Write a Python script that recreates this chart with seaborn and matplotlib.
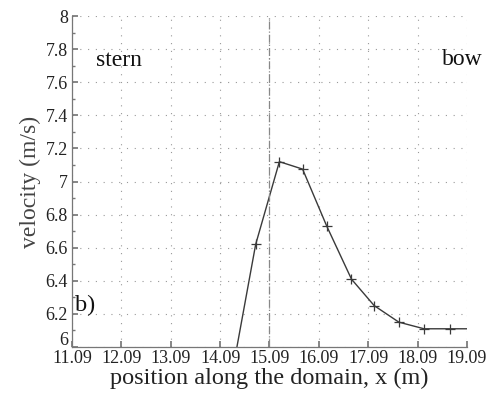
import matplotlib
matplotlib.use("Agg")
import matplotlib.pyplot as plt
import matplotlib.transforms as mtransforms
import seaborn as sns
import pandas as pd
import numpy as np
from matplotlib.ticker import AutoMinorLocator

sns.set_theme(style="white")
plt.rcParams['font.family'] = ['Liberation Serif', 'DejaVu Serif']

# velocity profile along the domain
x_pos = [14.32, 14.81, 15.29, 15.76, 16.25, 16.75, 17.21, 17.71, 18.22, 18.74, 19.12]
velocity = [5.82, 6.62, 7.12, 7.075, 6.73, 6.41, 6.25, 6.15, 6.11, 6.11, 6.11]
marker_x = x_pos[:-1]
marker_v = velocity[:-1]
x_ticks = [11.09, 12.09, 13.09, 14.09, 15.09, 16.09, 17.09, 18.09, 19.09]
y_ticks = [6, 6.2, 6.4, 6.6, 6.8, 7, 7.2, 7.4, 7.6, 7.8, 8]
midship = 15.09

df = pd.DataFrame({"x": x_pos, "v": velocity})
dm = pd.DataFrame({"x": marker_x, "v": marker_v})

fig = plt.figure(figsize=(4.88, 4.01), dpi=100)
ax = fig.add_axes([0.1475, 0.1347, 0.8095, 0.8253])

sns.lineplot(data=df, x="x", y="v", ax=ax, color="#3a3a3a", linewidth=1.0)
sns.scatterplot(data=dm, x="x", y="v", ax=ax, marker="+", color="#3a3a3a",
                s=55, linewidth=0.9)
ax.axvline(midship, color="#888888", linestyle="-.", linewidth=0.9)

ax.set_xlim(11.09, 19.09)
ax.set_ylim(6, 8)
ax.set_xticks(x_ticks)
ax.set_xticklabels([f"{t:.2f}" for t in x_ticks])
ax.set_yticks(y_ticks)
ax.set_yticklabels([f"{t:g}" for t in y_ticks])
ax.yaxis.set_minor_locator(AutoMinorLocator(2))

ax.grid(True, which="major", linestyle=(0, (1, 6)), color="#999999", linewidth=0.8)
for s in ["top", "right"]:
    ax.spines[s].set_visible(False)
for s in ["left", "bottom"]:
    ax.spines[s].set_color("#777777")
    ax.spines[s].set_linewidth(0.9)
ax.tick_params(which="both", direction="in", color="#777777", labelsize=13,
               labelcolor="#222222", left=True, bottom=True)
ax.tick_params(which="major", length=4)
ax.tick_params(which="minor", length=2)
ax.tick_params(axis="x", pad=2)
ax.tick_params(axis="y", pad=3)

# lift the lowest y label a little, as in the original
lbl = ax.get_yticklabels()[0]
lbl.set_transform(lbl.get_transform() + mtransforms.ScaledTranslation(0, 6 / 72, fig.dpi_scale_trans))

ax.set_xlabel("position along the domain, x (m)", fontsize=17.5, color="#222222", labelpad=1)
ax.set_ylabel("velocity (m/s)", fontsize=17, color="#444444", labelpad=3)

ax.text(11.57, 7.73, "stern", fontsize=17, color="#111111", va="center")
ax.text(18.58, 7.74, "bow", fontsize=17, color="#111111", va="center", clip_on=False)
ax.text(11.15, 6.254, "b)", fontsize=17.5, color="#111111", va="center")

fig.savefig("out.png", dpi=100)
